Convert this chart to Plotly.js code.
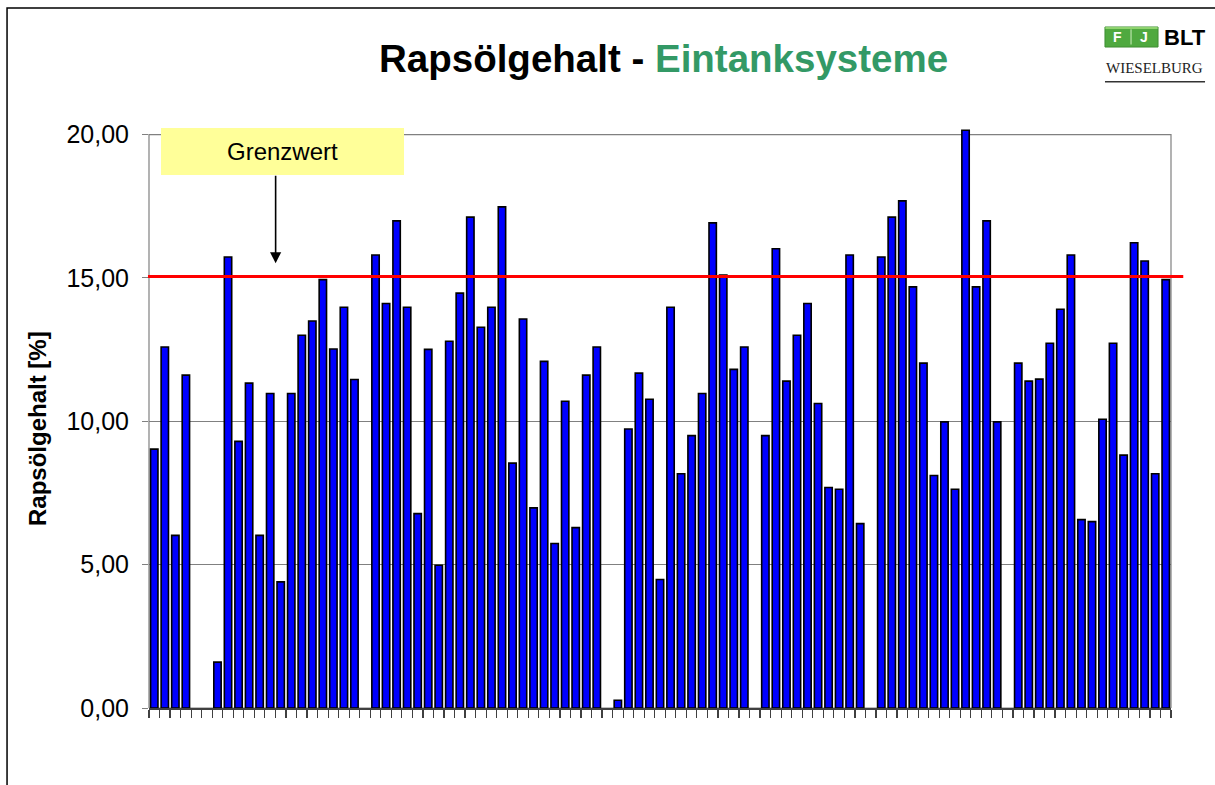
<!DOCTYPE html>
<html>
<head>
<meta charset="utf-8">
<script src="https://cdn.plot.ly/plotly-3.0.1.min.js"></script>
<style>html,body{margin:0;padding:0;background:#fff;}#chart{width:1215px;height:785px;}</style>
</head>
<body>
<div id="chart"></div>
<script>
// Category indices (97 samples, unlabeled on the axis)
const categories = Array.from({length: 97}, (_, i) => String(i + 1));
// Rapsölgehalt [%] per sample (null = no bar)
const oilContent = [
  9.03, 12.59, 6.02, 11.61, null, null, 1.60, 15.73, 9.30, 11.33,
  6.02, 10.97, 4.40, 10.97, 13.00, 13.50, 14.94, 12.52, 13.98, 11.46,
  null, 15.80, 14.11, 16.99, 13.98, 6.78, 12.51, 4.98, 12.79, 14.47,
  17.12, 13.28, 13.98, 17.48, 8.54, 13.57, 6.98, 12.09, 5.74, 10.70,
  6.29, 11.61, 12.59, null, 0.27, 9.73, 11.68, 10.77, 4.48, 13.98,
  8.17, 9.50, 10.97, 16.92, 15.10, 11.81, 12.59, null, 9.50, 16.02,
  11.40, 13.00, 14.11, 10.62, 7.69, 7.63, 15.80, 6.43, null, 15.73,
  17.12, 17.69, 14.69, 12.03, 8.11, 9.98, 7.63, 20.15, 14.69, 16.99,
  9.98, null, 12.03, 11.40, 11.47, 12.72, 13.91, 15.80, 6.57, 6.50,
  10.07, 12.72, 8.82, 16.23, 15.59, 8.17, 14.94
];
const limitValue = 15.05;           // Grenzwert
const yTickVals = [0, 5, 10, 15, 20];

const FONT = "Liberation Sans, Arial, Helvetica, sans-serif";

const trace = {
  type: 'bar',
  x: categories,
  y: oilContent,
  marker: {color: '#0000FF', line: {color: '#000000', width: 1.6}},
  hoverinfo: 'y'
};

const layout = {
  width: 1215, height: 785,
  margin: {l: 149, r: 44, t: 126, b: 77},
  paper_bgcolor: '#ffffff', plot_bgcolor: '#ffffff',
  showlegend: false,
  separators: ',.',
  bargap: 0.3,
  font: {family: FONT, color: '#000'},
  xaxis: {
    type: 'category',
    tickmode: 'linear', dtick: 1,
    tickson: 'boundaries',
    ticks: 'outside', ticklen: 8, tickwidth: 1.2, tickcolor: '#404040',
    showticklabels: false,
    showgrid: false, zeroline: false,
    showline: true, linecolor: '#404040', linewidth: 1.5
  },
  yaxis: {
    range: [0, 20.3],
    tickvals: yTickVals,
    tickformat: '.2f',
    ticks: 'outside', ticklen: 6, tickcolor: '#808080',
    tickfont: {family: FONT, size: 25, color: '#000'},
    ticklabelstandoff: 8,
    showgrid: true, gridcolor: '#808080', gridwidth: 1,
    zeroline: false, showline: false
  },
  shapes: [
    // plot frame
    {type: 'rect', xref: 'paper', yref: 'y', x0: 0, x1: 1, y0: 0, y1: 20,
     line: {color: '#808080', width: 1.2}, layer: 'below'},
    // limit line
    {type: 'line', xref: 'paper', yref: 'y', x0: -0.001, x1: 1.012, y0: limitValue, y1: limitValue,
     line: {color: '#FF0000', width: 3}, layer: 'above'},
    // outer border (left + top)
    {type: 'path', xref: 'paper', yref: 'paper',
     path: 'M -0.1389 -0.14 L -0.1389 1.2027 L 1.05 1.2027',
     line: {color: '#000', width: 1.5}},
    // logo green box
    {type: 'rect', xref: 'paper', yref: 'paper', x0: 0.9354, x1: 0.9873, y0: 1.1357, y1: 1.1701,
     fillcolor: '#4FA93F', line: {color: '#3E8E33', width: 1}},
    {type: 'line', xref: 'paper', yref: 'paper', x0: 0.9358, x1: 0.9869, y0: 1.1684, y1: 1.1684,
     line: {color: '#8FD36F', width: 2}},
    {type: 'line', xref: 'paper', yref: 'paper', x0: 0.9609, x1: 0.9609, y0: 1.1400, y1: 1.1660,
     line: {color: '#CFEFC0', width: 1}},
    // logo underline
    {type: 'line', xref: 'paper', yref: 'paper', x0: 0.9354, x1: 1.0333, y0: 1.0761, y1: 1.0761,
     line: {color: '#333', width: 1.5}}
  ],
  annotations: [
    // title
    {xref: 'paper', yref: 'paper', x: 0.503, y: 1.1168, xanchor: 'center', yanchor: 'middle',
     showarrow: false,
     text: "<b>Rapsölgehalt - <span style='color:#339966'>Eintanksysteme</span></b>",
     font: {family: FONT, size: 38.5, color: '#000'}},
    // y axis title
    {xref: 'paper', yref: 'paper', x: -0.1086, y: 0.4794, xanchor: 'center', yanchor: 'middle',
     showarrow: false, textangle: -90,
     text: '<b>Rapsölgehalt [%]</b>',
     font: {family: FONT, size: 24, color: '#000'}},
    // Grenzwert box
    {xref: 'paper', yref: 'paper', x: 0.1306, y: 0.9562, xanchor: 'center', yanchor: 'middle',
     showarrow: false, text: 'Grenzwert', width: 243, height: 47,
     bgcolor: '#FFFF99', borderpad: 0, borderwidth: 0,
     font: {family: FONT, size: 24, color: '#000'}},
    // arrow
    {xref: 'paper', yref: 'y', x: 0.1239, y: 15.51, axref: 'pixel', ayref: 'pixel', ax: 0, ay: -89,
     text: '', showarrow: true, arrowhead: 2, arrowsize: 1.4, arrowwidth: 1.6, arrowcolor: '#000', standoff: 0},
    // logo text
    {xref: 'paper', yref: 'paper', x: 0.9481, y: 1.1529, xanchor: 'center', yanchor: 'middle', showarrow: false,
     text: '<b>F</b>', font: {family: FONT, size: 14, color: '#fff'}},
    {xref: 'paper', yref: 'paper', x: 0.9736, y: 1.1529, xanchor: 'center', yanchor: 'middle', showarrow: false,
     text: '<b>J</b>', font: {family: FONT, size: 14, color: '#fff'}},
    {xref: 'paper', yref: 'paper', x: 1.0137, y: 1.1529, xanchor: 'center', yanchor: 'middle', showarrow: false,
     text: '<b>BLT</b>', font: {family: FONT, size: 22, color: '#000'}},
    {xref: 'paper', yref: 'paper', x: 0.9843, y: 1.0997, xanchor: 'center', yanchor: 'middle', showarrow: false,
     text: 'WIESELBURG', font: {family: 'Liberation Serif, Times New Roman, serif', size: 15, color: '#222'}}
  ]
};

Plotly.newPlot('chart', [trace], layout, {displayModeBar: false, staticPlot: true});
</script>
</body>
</html>
